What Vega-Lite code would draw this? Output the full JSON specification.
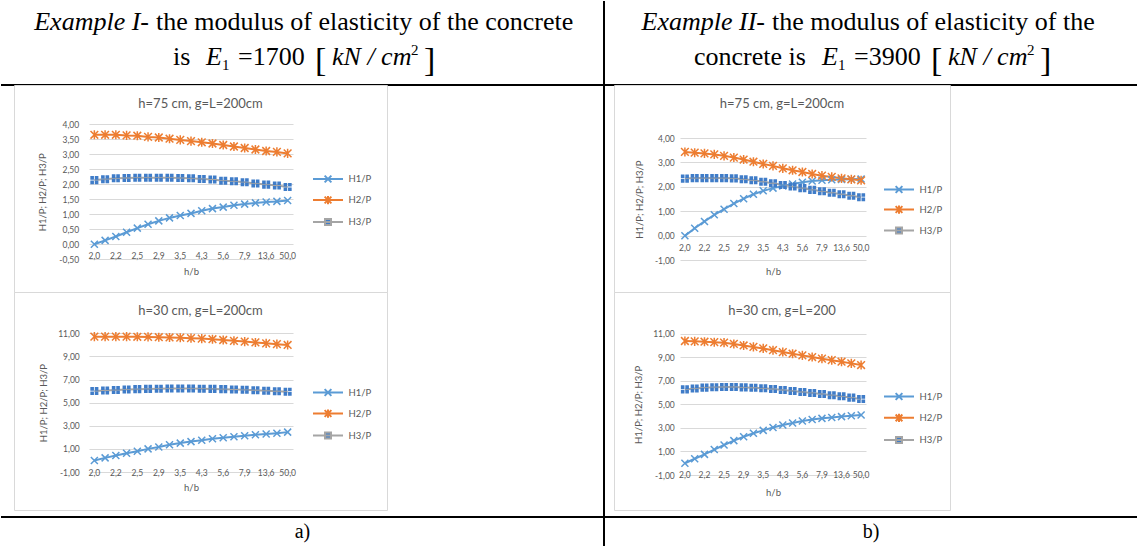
{
 "$schema": "https://vega.github.io/schema/vega-lite/v6.json",
 "padding": 0,
 "background": "white",
 "bounds": "flush",
 "spacing": 0,
 "columns": 5,
 "config": {
  "view": {"stroke": null},
  "axis": {"labelFont": "Lato", "labelColor": "#595959", "labelFontSize": 8.5, "titleFont": "Lato", "titleColor": "#595959", "titleFontSize": 9.5, "titleFontWeight": "normal", "domain": false, "ticks": false, "tickSize": 0, "gridColor": "#d9d9d9", "gridWidth": 1, "gridOpacity": 1, "labelOverlap": false, "labelBound": false},
  "legend": {"labelFont": "Lato", "labelColor": "#595959", "labelFontSize": 9.5}
 },
 "datasets": {
  "A1": [
   {"hb": "2,0", "H1/P": 0.00, "H2/P": 3.65, "H3/P": 2.14},
   {"hb": "2,1", "H1/P": 0.13, "H2/P": 3.65, "H3/P": 2.17},
   {"hb": "2,2", "H1/P": 0.26, "H2/P": 3.65, "H3/P": 2.20},
   {"hb": "2,4", "H1/P": 0.40, "H2/P": 3.63, "H3/P": 2.21},
   {"hb": "2,5", "H1/P": 0.54, "H2/P": 3.62, "H3/P": 2.22},
   {"hb": "2,7", "H1/P": 0.67, "H2/P": 3.58, "H3/P": 2.22},
   {"hb": "2,9", "H1/P": 0.78, "H2/P": 3.56, "H3/P": 2.22},
   {"hb": "3,2", "H1/P": 0.88, "H2/P": 3.52, "H3/P": 2.22},
   {"hb": "3,5", "H1/P": 0.96, "H2/P": 3.48, "H3/P": 2.21},
   {"hb": "3,8", "H1/P": 1.03, "H2/P": 3.44, "H3/P": 2.20},
   {"hb": "4,3", "H1/P": 1.12, "H2/P": 3.40, "H3/P": 2.18},
   {"hb": "4,8", "H1/P": 1.19, "H2/P": 3.36, "H3/P": 2.16},
   {"hb": "5,6", "H1/P": 1.24, "H2/P": 3.31, "H3/P": 2.12},
   {"hb": "6,5", "H1/P": 1.30, "H2/P": 3.26, "H3/P": 2.10},
   {"hb": "7,9", "H1/P": 1.34, "H2/P": 3.21, "H3/P": 2.07},
   {"hb": "10,0", "H1/P": 1.38, "H2/P": 3.16, "H3/P": 2.03},
   {"hb": "13,6", "H1/P": 1.41, "H2/P": 3.11, "H3/P": 1.99},
   {"hb": "21,4", "H1/P": 1.43, "H2/P": 3.08, "H3/P": 1.96},
   {"hb": "50,0", "H1/P": 1.46, "H2/P": 3.03, "H3/P": 1.91}
  ],
  "A2": [
   {"hb": "2,0", "H1/P": 0.00, "H2/P": 10.71, "H3/P": 6.00},
   {"hb": "2,1", "H1/P": 0.22, "H2/P": 10.71, "H3/P": 6.05},
   {"hb": "2,2", "H1/P": 0.43, "H2/P": 10.71, "H3/P": 6.09},
   {"hb": "2,4", "H1/P": 0.63, "H2/P": 10.71, "H3/P": 6.13},
   {"hb": "2,5", "H1/P": 0.80, "H2/P": 10.70, "H3/P": 6.17},
   {"hb": "2,7", "H1/P": 1.00, "H2/P": 10.69, "H3/P": 6.19},
   {"hb": "2,9", "H1/P": 1.17, "H2/P": 10.66, "H3/P": 6.21},
   {"hb": "3,2", "H1/P": 1.35, "H2/P": 10.64, "H3/P": 6.22},
   {"hb": "3,5", "H1/P": 1.50, "H2/P": 10.62, "H3/P": 6.22},
   {"hb": "3,8", "H1/P": 1.63, "H2/P": 10.58, "H3/P": 6.22},
   {"hb": "4,3", "H1/P": 1.74, "H2/P": 10.54, "H3/P": 6.21},
   {"hb": "4,8", "H1/P": 1.87, "H2/P": 10.49, "H3/P": 6.19},
   {"hb": "5,6", "H1/P": 1.97, "H2/P": 10.42, "H3/P": 6.17},
   {"hb": "6,5", "H1/P": 2.05, "H2/P": 10.35, "H3/P": 6.14},
   {"hb": "7,9", "H1/P": 2.14, "H2/P": 10.28, "H3/P": 6.11},
   {"hb": "10,0", "H1/P": 2.22, "H2/P": 10.21, "H3/P": 6.07},
   {"hb": "13,6", "H1/P": 2.29, "H2/P": 10.13, "H3/P": 6.03},
   {"hb": "21,4", "H1/P": 2.36, "H2/P": 10.06, "H3/P": 5.99},
   {"hb": "50,0", "H1/P": 2.45, "H2/P": 9.99, "H3/P": 5.95}
  ],
  "B1": [
   {"hb": "2,0", "H1/P": 0.00, "H2/P": 3.43, "H3/P": 2.34},
   {"hb": "2,1", "H1/P": 0.31, "H2/P": 3.40, "H3/P": 2.36},
   {"hb": "2,2", "H1/P": 0.59, "H2/P": 3.37, "H3/P": 2.36},
   {"hb": "2,4", "H1/P": 0.86, "H2/P": 3.33, "H3/P": 2.36},
   {"hb": "2,5", "H1/P": 1.09, "H2/P": 3.27, "H3/P": 2.36},
   {"hb": "2,7", "H1/P": 1.32, "H2/P": 3.20, "H3/P": 2.35},
   {"hb": "2,9", "H1/P": 1.52, "H2/P": 3.12, "H3/P": 2.31},
   {"hb": "3,2", "H1/P": 1.70, "H2/P": 3.03, "H3/P": 2.27},
   {"hb": "3,5", "H1/P": 1.84, "H2/P": 2.94, "H3/P": 2.21},
   {"hb": "3,8", "H1/P": 1.95, "H2/P": 2.86, "H3/P": 2.15},
   {"hb": "4,3", "H1/P": 2.04, "H2/P": 2.76, "H3/P": 2.08},
   {"hb": "4,8", "H1/P": 2.12, "H2/P": 2.68, "H3/P": 2.02},
   {"hb": "5,6", "H1/P": 2.19, "H2/P": 2.61, "H3/P": 1.95},
   {"hb": "6,5", "H1/P": 2.24, "H2/P": 2.53, "H3/P": 1.88},
   {"hb": "7,9", "H1/P": 2.27, "H2/P": 2.46, "H3/P": 1.82},
   {"hb": "10,0", "H1/P": 2.29, "H2/P": 2.41, "H3/P": 1.76},
   {"hb": "13,6", "H1/P": 2.30, "H2/P": 2.35, "H3/P": 1.70},
   {"hb": "21,4", "H1/P": 2.31, "H2/P": 2.31, "H3/P": 1.64},
   {"hb": "50,0", "H1/P": 2.32, "H2/P": 2.27, "H3/P": 1.58}
  ],
  "B2": [
   {"hb": "2,0", "H1/P": 0.00, "H2/P": 10.38, "H3/P": 6.27},
   {"hb": "2,1", "H1/P": 0.38, "H2/P": 10.35, "H3/P": 6.35},
   {"hb": "2,2", "H1/P": 0.75, "H2/P": 10.32, "H3/P": 6.42},
   {"hb": "2,4", "H1/P": 1.16, "H2/P": 10.28, "H3/P": 6.46},
   {"hb": "2,5", "H1/P": 1.55, "H2/P": 10.24, "H3/P": 6.47},
   {"hb": "2,7", "H1/P": 1.92, "H2/P": 10.13, "H3/P": 6.47},
   {"hb": "2,9", "H1/P": 2.25, "H2/P": 10.00, "H3/P": 6.44},
   {"hb": "3,2", "H1/P": 2.54, "H2/P": 9.88, "H3/P": 6.41},
   {"hb": "3,5", "H1/P": 2.79, "H2/P": 9.75, "H3/P": 6.36},
   {"hb": "3,8", "H1/P": 3.03, "H2/P": 9.60, "H3/P": 6.30},
   {"hb": "4,3", "H1/P": 3.24, "H2/P": 9.44, "H3/P": 6.22},
   {"hb": "4,8", "H1/P": 3.42, "H2/P": 9.30, "H3/P": 6.14},
   {"hb": "5,6", "H1/P": 3.58, "H2/P": 9.16, "H3/P": 6.05},
   {"hb": "6,5", "H1/P": 3.71, "H2/P": 9.02, "H3/P": 5.97},
   {"hb": "7,9", "H1/P": 3.81, "H2/P": 8.88, "H3/P": 5.88},
   {"hb": "10,0", "H1/P": 3.89, "H2/P": 8.75, "H3/P": 5.78},
   {"hb": "13,6", "H1/P": 3.96, "H2/P": 8.62, "H3/P": 5.68},
   {"hb": "21,4", "H1/P": 4.03, "H2/P": 8.48, "H3/P": 5.57},
   {"hb": "50,0", "H1/P": 4.09, "H2/P": 8.34, "H3/P": 5.45}
  ]
 },
 "concat": [
  {"width": 13, "height": 84, "data": {"values": [{}]},
   "mark": {"type": "rule", "color": "black", "strokeWidth": 2},
   "encoding": {"y": {"datum": 0, "type": "quantitative", "scale": {"domain": [0, 1]}, "axis": null}}},
  {"width": 373, "height": 84, "data": {"values": [{}]},
   "encoding": {"x": {"datum": 0, "type": "quantitative", "scale": {"domain": [0, 1]}, "axis": null}, "y": {"datum": 1, "type": "quantitative", "scale": {"domain": [0, 1]}, "axis": null}},
   "layer": [
    {"mark": {"type": "rule", "color": "black", "strokeWidth": 2}, "encoding": {"x": null, "y": {"datum": 0, "type": "quantitative"}}},
    {"mark": {"type": "text", "text": "Example I-", "font": "Liberation Serif", "fontSize": 26, "fontStyle": "italic", "align": "right", "baseline": "alphabetic", "dx": 135, "dy": 29, "color": "black"}},
    {"mark": {"type": "text", "text": "the modulus of elasticity of the concrete", "font": "Liberation Serif", "fontSize": 26, "align": "left", "baseline": "alphabetic", "dx": 142, "dy": 29, "color": "black"}},
    {"mark": {"type": "text", "text": "is", "font": "Liberation Serif", "fontSize": 26, "align": "left", "baseline": "alphabetic", "dx": 159, "dy": 64, "color": "black"}},
    {"mark": {"type": "text", "text": "E", "font": "Liberation Serif", "fontSize": 26, "fontStyle": "italic", "align": "left", "baseline": "alphabetic", "dx": 192, "dy": 64, "color": "black"}},
    {"mark": {"type": "text", "text": "1", "font": "Liberation Serif", "fontSize": 15, "align": "left", "baseline": "alphabetic", "dx": 208, "dy": 69, "color": "black"}},
    {"mark": {"type": "text", "text": "=1700", "font": "Liberation Serif", "fontSize": 26, "align": "left", "baseline": "alphabetic", "dx": 224, "dy": 64, "color": "black"}},
    {"mark": {"type": "text", "text": "[", "font": "Liberation Serif", "fontSize": 34, "align": "left", "baseline": "alphabetic", "dx": 301, "dy": 70, "color": "black"}},
    {"mark": {"type": "text", "text": "kN / cm", "font": "Liberation Serif", "fontSize": 26, "fontStyle": "italic", "align": "left", "baseline": "alphabetic", "dx": 318, "dy": 64, "color": "black"}},
    {"mark": {"type": "text", "text": "2", "font": "Liberation Serif", "fontSize": 15, "align": "left", "baseline": "alphabetic", "dx": 397, "dy": 54, "color": "black"}},
    {"mark": {"type": "text", "text": "]", "font": "Liberation Serif", "fontSize": 34, "align": "left", "baseline": "alphabetic", "dx": 410, "dy": 70, "color": "black"}}
   ]},
  {"width": 217, "height": 84, "data": {"values": [{}]},
   "layer": [
    {"mark": {"type": "rule", "color": "black", "strokeWidth": 2}, "encoding": {"y": {"datum": 0, "type": "quantitative", "scale": {"domain": [0, 1]}, "axis": null}}},
    {"mark": {"type": "rule", "color": "black", "strokeWidth": 2}, "encoding": {"x": {"datum": 1, "type": "quantitative", "scale": {"domain": [0, 1]}, "axis": null}}}
   ]},
  {"width": 10, "height": 84, "data": {"values": [{}]},
   "mark": {"type": "rule", "color": "black", "strokeWidth": 2},
   "encoding": {"y": {"datum": 0, "type": "quantitative", "scale": {"domain": [0, 1]}, "axis": null}}},
  {"width": 524, "height": 84, "data": {"values": [{}]},
   "encoding": {"x": {"datum": 0, "type": "quantitative", "scale": {"domain": [0, 1]}, "axis": null}, "y": {"datum": 1, "type": "quantitative", "scale": {"domain": [0, 1]}, "axis": null}},
   "layer": [
    {"mark": {"type": "rule", "color": "black", "strokeWidth": 2}, "encoding": {"x": null, "y": {"datum": 0, "type": "quantitative"}}},
    {"mark": {"type": "text", "text": "Example II-", "font": "Liberation Serif", "fontSize": 26, "fontStyle": "italic", "align": "right", "baseline": "alphabetic", "dx": 151, "dy": 29, "color": "black"}},
    {"mark": {"type": "text", "text": "the modulus of elasticity of the", "font": "Liberation Serif", "fontSize": 26, "align": "left", "baseline": "alphabetic", "dx": 158, "dy": 29, "color": "black"}},
    {"mark": {"type": "text", "text": "concrete is", "font": "Liberation Serif", "fontSize": 26, "align": "left", "baseline": "alphabetic", "dx": 80, "dy": 64, "color": "black"}},
    {"mark": {"type": "text", "text": "E", "font": "Liberation Serif", "fontSize": 26, "fontStyle": "italic", "align": "left", "baseline": "alphabetic", "dx": 208, "dy": 64, "color": "black"}},
    {"mark": {"type": "text", "text": "1", "font": "Liberation Serif", "fontSize": 15, "align": "left", "baseline": "alphabetic", "dx": 224, "dy": 69, "color": "black"}},
    {"mark": {"type": "text", "text": "=3900", "font": "Liberation Serif", "fontSize": 26, "align": "left", "baseline": "alphabetic", "dx": 240, "dy": 64, "color": "black"}},
    {"mark": {"type": "text", "text": "[", "font": "Liberation Serif", "fontSize": 34, "align": "left", "baseline": "alphabetic", "dx": 317, "dy": 70, "color": "black"}},
    {"mark": {"type": "text", "text": "kN / cm", "font": "Liberation Serif", "fontSize": 26, "fontStyle": "italic", "align": "left", "baseline": "alphabetic", "dx": 334, "dy": 64, "color": "black"}},
    {"mark": {"type": "text", "text": "2", "font": "Liberation Serif", "fontSize": 15, "align": "left", "baseline": "alphabetic", "dx": 413, "dy": 54, "color": "black"}},
    {"mark": {"type": "text", "text": "]", "font": "Liberation Serif", "fontSize": 34, "align": "left", "baseline": "alphabetic", "dx": 426, "dy": 70, "color": "black"}}
   ]},

  {"width": 13, "height": 207, "data": {"values": []}, "mark": "rule", "encoding": {}},
  {"width": 373, "height": 207,
   "view": {"stroke": "#d9d9d9"},
   "data": {"name": "A1"},
   "transform": [{"fold": ["H1/P", "H2/P", "H3/P"], "as": ["s", "v"]}],
   "title": {"text": "h=75 cm, g=L=200cm", "offset": -32, "baseline": "middle", "anchor": "middle", "frame": "group", "font": "Lato", "fontSize": 13, "fontWeight": "normal", "color": "#595959"},
   "encoding": {
    "x": {"field": "hb", "type": "nominal", "sort": null, "bandPosition": 0.5,
     "scale": {"type": "band", "range": [75, 279], "paddingInner": 0, "paddingOuter": 0},
     "axis": {"title": "h/b", "values": ["2,0", "2,2", "2,5", "2,9", "3,5", "4,3", "5,6", "7,9", "13,6", "50,0"], "offset": -47.7, "labelPadding": 11.5, "labelBaseline": "middle", "labelAngle": 0, "grid": false, "titleY": 26.7, "titleBaseline": "middle"}},
    "y": {"field": "v", "type": "quantitative",
     "scale": {"domain": [-0.5, 4], "range": [174.3, 39.3], "nice": false, "zero": false},
     "axis": {"title": "H1/P; H2/P; H3/P", "values": [-0.5, 0, 0.5, 1, 1.5, 2, 2.5, 3, 3.5, 4], "offset": -67.7, "labelPadding": 3, "grid": true, "labelExpr": "replace(replace(format(datum.value, '.2f'), '.', ','), '\u2212', '-')", "titleX": -39, "titleBaseline": "middle", "titleAngle": -90}}
   },
   "layer": [
    {"mark": {"type": "line", "strokeWidth": 2},
     "encoding": {"color": {"field": "s", "type": "nominal", "scale": {"range": ["#5B9BD5", "#ED7D31", "#A5A5A5"]}, "legend": null}}},
    {"mark": {"type": "point", "size": 49, "strokeWidth": 1.5, "opacity": 1},
     "encoding": {
      "shape": {"field": "s", "type": "nominal", "scale": {"range": ["M-1,-1L1,1M-1,1L1,-1", "M-1.1,-1.1L1.1,1.1M-1.1,1.1L1.1,-1.1M0,-1.3V1.3", "M-1.15,-1.15H-0.12V-0.12H-1.15ZM0.12,-1.15H1.15V-0.12H0.12ZM-1.15,0.12H-0.12V1.15H-1.15ZM0.12,0.12H1.15V1.15H0.12Z"]}, "legend": null},
      "stroke": {"field": "s", "type": "nominal", "scale": {"range": ["#5B9BD5", "#ED7D31", "rgba(0,0,0,0)"]}, "legend": null},
      "fill": {"field": "s", "type": "nominal", "scale": {"range": ["#5B9BD5", "#ED7D31", "#3F7CC8"]}, "legend": null}}},
    {"mark": {"type": "point", "size": 225, "strokeWidth": 2, "opacity": 0},
     "encoding": {
      "shape": {"field": "s", "type": "nominal", "scale": {"range": ["M-2,0H2M-0.45,-0.45L0.45,0.45M-0.45,0.45L0.45,-0.45", "M-2,0H2M-0.45,-0.45L0.45,0.45M-0.45,0.45L0.45,-0.45M0,-0.55V0.55", "M-2,0H2M-0.4,-0.4H0.4V0.4H-0.4Z"]},
       "legend": {"orient": "none", "legendX": 298, "legendY": 85.5, "title": null, "padding": 0, "symbolSize": 225, "symbolStrokeWidth": 2, "symbolOpacity": 1, "rowPadding": 5, "labelOffset": 12, "symbolOffset": 7.5}},
      "stroke": {"field": "s", "type": "nominal", "scale": {"range": ["#5B9BD5", "#ED7D31", "#A5A5A5"]},
       "legend": {"orient": "none", "legendX": 298, "legendY": 85.5, "title": null, "padding": 0, "symbolSize": 225, "symbolStrokeWidth": 2, "symbolOpacity": 1, "rowPadding": 5, "labelOffset": 12, "symbolOffset": 7.5}},
      "fill": {"field": "s", "type": "nominal", "scale": {"range": ["#5B9BD5", "#ED7D31", "#3F7CC8"]},
       "legend": {"orient": "none", "legendX": 298, "legendY": 85.5, "title": null, "padding": 0, "symbolSize": 225, "symbolStrokeWidth": 2, "symbolOpacity": 1, "rowPadding": 5, "labelOffset": 12, "symbolOffset": 7.5}}}}
   ],
   "resolve": {"scale": {"shape": "independent", "stroke": "independent", "fill": "independent"}, "legend": {"shape": "independent", "stroke": "independent", "fill": "independent"}}
  },
  {"width": 217, "height": 207, "data": {"values": [{}]},
   "mark": {"type": "rule", "color": "black", "strokeWidth": 2},
   "encoding": {"x": {"datum": 1, "type": "quantitative", "scale": {"domain": [0, 1]}, "axis": null}}},
  {"width": 10, "height": 207, "data": {"values": []}, "mark": "rule", "encoding": {}},
  {"width": 336, "height": 207,
   "view": {"stroke": "#d9d9d9"},
   "data": {"name": "B1"},
   "transform": [{"fold": ["H1/P", "H2/P", "H3/P"], "as": ["s", "v"]}],
   "title": {"text": "h=75 cm, g=L=200cm", "offset": -32, "baseline": "middle", "anchor": "middle", "frame": "group", "font": "Lato", "fontSize": 13, "fontWeight": "normal", "color": "#595959"},
   "encoding": {
    "x": {"field": "hb", "type": "nominal", "sort": null, "bandPosition": 0.5,
     "scale": {"type": "band", "range": [66, 252], "paddingInner": 0, "paddingOuter": 0},
     "axis": {"title": "h/b", "values": ["2,0", "2,2", "2,5", "2,9", "3,5", "4,3", "5,6", "7,9", "13,6", "50,0"], "offset": -55.7, "labelPadding": 11.5, "labelBaseline": "middle", "labelAngle": 0, "grid": false, "titleY": 34.7, "titleBaseline": "middle"}},
    "y": {"field": "v", "type": "quantitative",
     "scale": {"domain": [-1, 4], "range": [175.3, 53], "nice": false, "zero": false},
     "axis": {"title": "H1/P; H2/P; H3/P", "values": [-1, 0, 1, 2, 3, 4], "offset": -63.3, "labelPadding": 3, "grid": true, "labelExpr": "replace(replace(format(datum.value, '.2f'), '.', ','), '\u2212', '-')", "titleX": -38, "titleBaseline": "middle", "titleAngle": -90}}
   },
   "layer": [
    {"mark": {"type": "line", "strokeWidth": 2},
     "encoding": {"color": {"field": "s", "type": "nominal", "scale": {"range": ["#5B9BD5", "#ED7D31", "#A5A5A5"]}, "legend": null}}},
    {"mark": {"type": "point", "size": 49, "strokeWidth": 1.5, "opacity": 1},
     "encoding": {
      "shape": {"field": "s", "type": "nominal", "scale": {"range": ["M-1,-1L1,1M-1,1L1,-1", "M-1.1,-1.1L1.1,1.1M-1.1,1.1L1.1,-1.1M0,-1.3V1.3", "M-1.15,-1.15H-0.12V-0.12H-1.15ZM0.12,-1.15H1.15V-0.12H0.12ZM-1.15,0.12H-0.12V1.15H-1.15ZM0.12,0.12H1.15V1.15H0.12Z"]}, "legend": null},
      "stroke": {"field": "s", "type": "nominal", "scale": {"range": ["#5B9BD5", "#ED7D31", "rgba(0,0,0,0)"]}, "legend": null},
      "fill": {"field": "s", "type": "nominal", "scale": {"range": ["#5B9BD5", "#ED7D31", "#3F7CC8"]}, "legend": null}}},
    {"mark": {"type": "point", "size": 225, "strokeWidth": 2, "opacity": 0},
     "encoding": {
      "shape": {"field": "s", "type": "nominal", "scale": {"range": ["M-2,0H2M-0.45,-0.45L0.45,0.45M-0.45,0.45L0.45,-0.45", "M-2,0H2M-0.45,-0.45L0.45,0.45M-0.45,0.45L0.45,-0.45M0,-0.55V0.55", "M-2,0H2M-0.4,-0.4H0.4V0.4H-0.4Z"]},
       "legend": {"orient": "none", "legendX": 269, "legendY": 96, "title": null, "padding": 0, "symbolSize": 225, "symbolStrokeWidth": 2, "symbolOpacity": 1, "rowPadding": 4, "labelOffset": 12, "symbolOffset": 7.5}},
      "stroke": {"field": "s", "type": "nominal", "scale": {"range": ["#5B9BD5", "#ED7D31", "#A5A5A5"]},
       "legend": {"orient": "none", "legendX": 269, "legendY": 96, "title": null, "padding": 0, "symbolSize": 225, "symbolStrokeWidth": 2, "symbolOpacity": 1, "rowPadding": 4, "labelOffset": 12, "symbolOffset": 7.5}},
      "fill": {"field": "s", "type": "nominal", "scale": {"range": ["#5B9BD5", "#ED7D31", "#3F7CC8"]},
       "legend": {"orient": "none", "legendX": 269, "legendY": 96, "title": null, "padding": 0, "symbolSize": 225, "symbolStrokeWidth": 2, "symbolOpacity": 1, "rowPadding": 4, "labelOffset": 12, "symbolOffset": 7.5}}}}
   ],
   "resolve": {"scale": {"shape": "independent", "stroke": "independent", "fill": "independent"}, "legend": {"shape": "independent", "stroke": "independent", "fill": "independent"}}
  },

  {"width": 13, "height": 225, "data": {"values": []}, "mark": "rule", "encoding": {}},
  {"width": 373, "height": 218,
   "view": {"stroke": "#d9d9d9"},
   "data": {"name": "A2"},
   "transform": [{"fold": ["H1/P", "H2/P", "H3/P"], "as": ["s", "v"]}],
   "title": {"text": "h=30 cm, g=L=200cm", "offset": -32, "baseline": "middle", "anchor": "middle", "frame": "group", "font": "Lato", "fontSize": 13, "fontWeight": "normal", "color": "#595959"},
   "encoding": {
    "x": {"field": "hb", "type": "nominal", "sort": null, "bandPosition": 0.5,
     "scale": {"type": "band", "range": [75, 279], "paddingInner": 0, "paddingOuter": 0},
     "axis": {"title": "h/b", "values": ["2,0", "2,2", "2,5", "2,9", "3,5", "4,3", "5,6", "7,9", "13,6", "50,0"], "offset": -49.5, "labelPadding": 11.5, "labelBaseline": "middle", "labelAngle": 0, "grid": false, "titleY": 27.2, "titleBaseline": "middle"}},
    "y": {"field": "v", "type": "quantitative",
     "scale": {"domain": [-1, 11], "range": [180, 41.3], "nice": false, "zero": false},
     "axis": {"title": "H1/P; H2/P; H3/P", "values": [-1, 1, 3, 5, 7, 9, 11], "offset": -68.3, "labelPadding": 3, "grid": true, "labelExpr": "replace(replace(format(datum.value, '.2f'), '.', ','), '\u2212', '-')", "titleX": -38.6, "titleBaseline": "middle", "titleAngle": -90}}
   },
   "layer": [
    {"mark": {"type": "line", "strokeWidth": 2},
     "encoding": {"color": {"field": "s", "type": "nominal", "scale": {"range": ["#5B9BD5", "#ED7D31", "#A5A5A5"]}, "legend": null}}},
    {"mark": {"type": "point", "size": 49, "strokeWidth": 1.5, "opacity": 1},
     "encoding": {
      "shape": {"field": "s", "type": "nominal", "scale": {"range": ["M-1,-1L1,1M-1,1L1,-1", "M-1.1,-1.1L1.1,1.1M-1.1,1.1L1.1,-1.1M0,-1.3V1.3", "M-1.15,-1.15H-0.12V-0.12H-1.15ZM0.12,-1.15H1.15V-0.12H0.12ZM-1.15,0.12H-0.12V1.15H-1.15ZM0.12,0.12H1.15V1.15H0.12Z"]}, "legend": null},
      "stroke": {"field": "s", "type": "nominal", "scale": {"range": ["#5B9BD5", "#ED7D31", "rgba(0,0,0,0)"]}, "legend": null},
      "fill": {"field": "s", "type": "nominal", "scale": {"range": ["#5B9BD5", "#ED7D31", "#3F7CC8"]}, "legend": null}}},
    {"mark": {"type": "point", "size": 225, "strokeWidth": 2, "opacity": 0},
     "encoding": {
      "shape": {"field": "s", "type": "nominal", "scale": {"range": ["M-2,0H2M-0.45,-0.45L0.45,0.45M-0.45,0.45L0.45,-0.45", "M-2,0H2M-0.45,-0.45L0.45,0.45M-0.45,0.45L0.45,-0.45M0,-0.55V0.55", "M-2,0H2M-0.4,-0.4H0.4V0.4H-0.4Z"]},
       "legend": {"orient": "none", "legendX": 298, "legendY": 92, "title": null, "padding": 0, "symbolSize": 225, "symbolStrokeWidth": 2, "symbolOpacity": 1, "rowPadding": 5, "labelOffset": 12, "symbolOffset": 7.5}},
      "stroke": {"field": "s", "type": "nominal", "scale": {"range": ["#5B9BD5", "#ED7D31", "#A5A5A5"]},
       "legend": {"orient": "none", "legendX": 298, "legendY": 92, "title": null, "padding": 0, "symbolSize": 225, "symbolStrokeWidth": 2, "symbolOpacity": 1, "rowPadding": 5, "labelOffset": 12, "symbolOffset": 7.5}},
      "fill": {"field": "s", "type": "nominal", "scale": {"range": ["#5B9BD5", "#ED7D31", "#3F7CC8"]},
       "legend": {"orient": "none", "legendX": 298, "legendY": 92, "title": null, "padding": 0, "symbolSize": 225, "symbolStrokeWidth": 2, "symbolOpacity": 1, "rowPadding": 5, "labelOffset": 12, "symbolOffset": 7.5}}}}
   ],
   "resolve": {"scale": {"shape": "independent", "stroke": "independent", "fill": "independent"}, "legend": {"shape": "independent", "stroke": "independent", "fill": "independent"}}
  },
  {"width": 217, "height": 225, "data": {"values": [{}]},
   "mark": {"type": "rule", "color": "black", "strokeWidth": 2},
   "encoding": {"x": {"datum": 1, "type": "quantitative", "scale": {"domain": [0, 1]}, "axis": null}}},
  {"width": 10, "height": 225, "data": {"values": []}, "mark": "rule", "encoding": {}},
  {"width": 336, "height": 218,
   "view": {"stroke": "#d9d9d9"},
   "data": {"name": "B2"},
   "transform": [{"fold": ["H1/P", "H2/P", "H3/P"], "as": ["s", "v"]}],
   "title": {"text": "h=30 cm, g=L=200", "offset": -32, "baseline": "middle", "anchor": "middle", "frame": "group", "font": "Lato", "fontSize": 13, "fontWeight": "normal", "color": "#595959"},
   "encoding": {
    "x": {"field": "hb", "type": "nominal", "sort": null, "bandPosition": 0.5,
     "scale": {"type": "band", "range": [66, 252], "paddingInner": 0, "paddingOuter": 0},
     "axis": {"title": "h/b", "values": ["2,0", "2,2", "2,5", "2,9", "3,5", "4,3", "5,6", "7,9", "13,6", "50,0"], "offset": -46.7, "labelPadding": 11.5, "labelBaseline": "middle", "labelAngle": 0, "grid": false, "titleY": 29.4, "titleBaseline": "middle"}},
    "y": {"field": "v", "type": "quantitative",
     "scale": {"domain": [-1, 11], "range": [183, 41.7], "nice": false, "zero": false},
     "axis": {"title": "H1/P; H2/P; H3/P", "values": [-1, 1, 3, 5, 7, 9, 11], "offset": -63.3, "labelPadding": 3, "grid": true, "labelExpr": "replace(replace(format(datum.value, '.2f'), '.', ','), '\u2212', '-')", "titleX": -39, "titleBaseline": "middle", "titleAngle": -90}}
   },
   "layer": [
    {"mark": {"type": "line", "strokeWidth": 2},
     "encoding": {"color": {"field": "s", "type": "nominal", "scale": {"range": ["#5B9BD5", "#ED7D31", "#A5A5A5"]}, "legend": null}}},
    {"mark": {"type": "point", "size": 49, "strokeWidth": 1.5, "opacity": 1},
     "encoding": {
      "shape": {"field": "s", "type": "nominal", "scale": {"range": ["M-1,-1L1,1M-1,1L1,-1", "M-1.1,-1.1L1.1,1.1M-1.1,1.1L1.1,-1.1M0,-1.3V1.3", "M-1.15,-1.15H-0.12V-0.12H-1.15ZM0.12,-1.15H1.15V-0.12H0.12ZM-1.15,0.12H-0.12V1.15H-1.15ZM0.12,0.12H1.15V1.15H0.12Z"]}, "legend": null},
      "stroke": {"field": "s", "type": "nominal", "scale": {"range": ["#5B9BD5", "#ED7D31", "rgba(0,0,0,0)"]}, "legend": null},
      "fill": {"field": "s", "type": "nominal", "scale": {"range": ["#5B9BD5", "#ED7D31", "#3F7CC8"]}, "legend": null}}},
    {"mark": {"type": "point", "size": 225, "strokeWidth": 2, "opacity": 0},
     "encoding": {
      "shape": {"field": "s", "type": "nominal", "scale": {"range": ["M-2,0H2M-0.45,-0.45L0.45,0.45M-0.45,0.45L0.45,-0.45", "M-2,0H2M-0.45,-0.45L0.45,0.45M-0.45,0.45L0.45,-0.45M0,-0.55V0.55", "M-2,0H2M-0.4,-0.4H0.4V0.4H-0.4Z"]},
       "legend": {"orient": "none", "legendX": 269, "legendY": 96, "title": null, "padding": 0, "symbolSize": 225, "symbolStrokeWidth": 2, "symbolOpacity": 1, "rowPadding": 5.3, "labelOffset": 12, "symbolOffset": 7.5}},
      "stroke": {"field": "s", "type": "nominal", "scale": {"range": ["#5B9BD5", "#ED7D31", "#A5A5A5"]},
       "legend": {"orient": "none", "legendX": 269, "legendY": 96, "title": null, "padding": 0, "symbolSize": 225, "symbolStrokeWidth": 2, "symbolOpacity": 1, "rowPadding": 5.3, "labelOffset": 12, "symbolOffset": 7.5}},
      "fill": {"field": "s", "type": "nominal", "scale": {"range": ["#5B9BD5", "#ED7D31", "#3F7CC8"]},
       "legend": {"orient": "none", "legendX": 269, "legendY": 96, "title": null, "padding": 0, "symbolSize": 225, "symbolStrokeWidth": 2, "symbolOpacity": 1, "rowPadding": 5.3, "labelOffset": 12, "symbolOffset": 7.5}}}}
   ],
   "resolve": {"scale": {"shape": "independent", "stroke": "independent", "fill": "independent"}, "legend": {"shape": "independent", "stroke": "independent", "fill": "independent"}}
  },

  {"width": 13, "height": 30, "data": {"values": [{}]},
   "mark": {"type": "rule", "color": "black", "strokeWidth": 2},
   "encoding": {"y": {"datum": 1, "type": "quantitative", "scale": {"domain": [0, 1]}, "axis": null}}},
  {"width": 373, "height": 30, "data": {"values": [{}]},
   "encoding": {"x": {"datum": 0, "type": "quantitative", "scale": {"domain": [0, 1]}, "axis": null}, "y": {"datum": 1, "type": "quantitative", "scale": {"domain": [0, 1]}, "axis": null}},
   "layer": [
    {"mark": {"type": "rule", "color": "black", "strokeWidth": 2}, "encoding": {"x": null}},
    {"mark": {"type": "text", "text": "a)", "font": "Liberation Serif", "fontSize": 20, "align": "center", "baseline": "middle", "dx": 288.5, "dy": 15, "color": "black"}}
   ]},
  {"width": 217, "height": 30, "data": {"values": [{}]},
   "layer": [
    {"mark": {"type": "rule", "color": "black", "strokeWidth": 2}, "encoding": {"y": {"datum": 1, "type": "quantitative", "scale": {"domain": [0, 1]}, "axis": null}}},
    {"mark": {"type": "rule", "color": "black", "strokeWidth": 2}, "encoding": {"x": {"datum": 1, "type": "quantitative", "scale": {"domain": [0, 1]}, "axis": null}}}
   ]},
  {"width": 10, "height": 30, "data": {"values": [{}]},
   "mark": {"type": "rule", "color": "black", "strokeWidth": 2},
   "encoding": {"y": {"datum": 1, "type": "quantitative", "scale": {"domain": [0, 1]}, "axis": null}}},
  {"width": 524, "height": 30, "data": {"values": [{}]},
   "encoding": {"x": {"datum": 0, "type": "quantitative", "scale": {"domain": [0, 1]}, "axis": null}, "y": {"datum": 1, "type": "quantitative", "scale": {"domain": [0, 1]}, "axis": null}},
   "layer": [
    {"mark": {"type": "rule", "color": "black", "strokeWidth": 2}, "encoding": {"x": null}},
    {"mark": {"type": "text", "text": "b)", "font": "Liberation Serif", "fontSize": 20, "align": "center", "baseline": "middle", "dx": 257, "dy": 15, "color": "black"}}
   ]}
 ]
}
